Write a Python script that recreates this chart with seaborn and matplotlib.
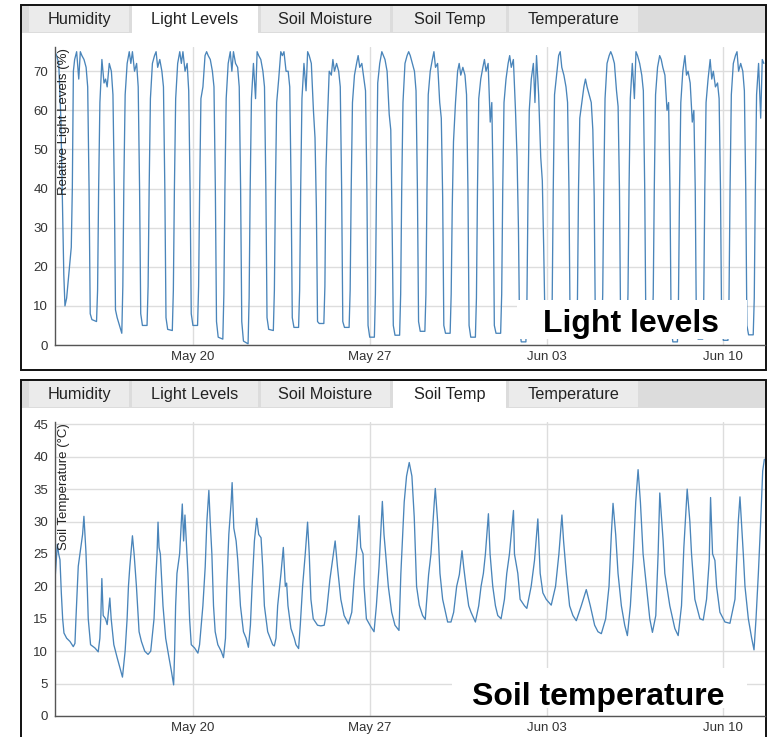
import numpy as np
import pandas as pd
import matplotlib
matplotlib.use("Agg")
import matplotlib.pyplot as plt
import matplotlib.dates as mdates
from matplotlib.patches import Rectangle
import seaborn as sns

nan = np.nan
START = pd.Timestamp("2023-05-14")

tab_names = ["Humidity", "Light Levels", "Soil Moisture", "Soil Temp", "Temperature"]
week_ticks = ["2023-05-20", "2023-05-27", "2023-06-03", "2023-06-10"]

# light readings: one row per day from May 14, columns are hour of day
light_hours = [0, 4.4, 5.4, 6.4, 7.6, 9.5, 11.5, 13, 14.5, 16.5, 18.5, 20, 21.3, 22.4]
light_rows = [
    [nan, nan, nan, nan, nan, nan, nan, 75, 74, 72, 58, 36, 18, 10],  # May 14
    [12, 25, 40, 70, 73, 75, 68, 75, 74, 73, 71, 66, 40, 8],
    [6.5, 6, 14, 40, 62, 73, 67, 68, 66, 72, 70, 64, 40, 9],
    [7, 3, 15, 42, 64, 72, 75, 72, 75, 70, 72, 66, 40, 8],
    [5, 5, 15, 40, 63, 72, 74, 75, 71, 73, 70, 66, 40, 7],
    [4, 3.7, 14, 40, 63, 72, 75, 72, 75, 70, 72, 65, 40, 8],
    [5, 5, 15, 40, 63, 66, 74, 75, 74, 73, 70, 66, 40, 6],  # May 20
    [2, 1.5, 13, 40, 63, 72, 75, 70, 75, 72, 71, 66, 40, 6],
    [1, 0.3, 12, 40, 63, 72, 63, 75, 74, 73, 70, 66, 40, 7],
    [4, 3.7, 14, 40, 62, 68, 75, 74, 75, 70, 70, 66, 40, 7],
    [4.5, 4.5, 14, 40, 63, 72, 65, 75, 74, 72, 60, 53, 35, 6],
    [5.5, 5.5, 15, 45, 56, 70, 69, 73, 70, 72, 70, 66, 40, 6],
    [4.5, 4.5, 14, 40, 62, 69, 72, 74, 71, 72, 68, 65, 40, 5],
    [2, 2, 13, 40, 67, 72, 75, 74, 73, 70, 59, 55, 30, 5],  # May 27
    [2.5, 2.5, 13, 40, 62, 72, 74, 75, 74, 72, 70, 65, 40, 6],
    [3.5, 3.5, 13, 40, 64, 70, 73, 75, 71, 72, 62, 58, 38, 5],
    [3, 3, 13, 35, 52, 62, 70, 72, 69, 71, 69, 64, 40, 5],
    [2, 2, 12, 40, 63, 68, 71, 73, 70, 72, 57, 62, 40, 5],
    [3, 3, 13, 40, 62, 68, 72, 74, 71, 73, 60, 48, 30, 4],
    [0.8, 0.8, 12, 38, 60, 68, 72, 62, 74, 64, 48, 42, 25, 8],
    [3, 2, 12, 40, 64, 69, 74, 75, 71, 69, 66, 62, 40, 5],  # Jun 03
    [3, 3, 12, 40, 58, 62, 66, 68, 66, 64, 62, 55, 38, 5],
    [3, 3, 13, 40, 63, 72, 74, 75, 74, 72, 65, 61, 40, 5],
    [3, 3, 13, 40, 63, 72, 63, 75, 74, 72, 69, 65, 40, 5],
    [3, 3, 13, 40, 64, 71, 74, 73, 71, 69, 60, 62, 40, 5],
    [0.8, 0.8, 12, 40, 62, 70, 74, 69, 70, 67, 57, 60, 40, 5],
    [1.5, 1.5, 12, 40, 62, 68, 73, 68, 70, 66, 67, 63, 40, 5],
    [1.2, 1.2, 12, 40, 64, 72, 74, 75, 70, 72, 70, 65, 40, 5],  # Jun 10
    [2.6, 2.6, 12, 40, 64, 72, 58, 73, 72, nan, nan, nan, nan, nan],
]

# soil temperature readings: (days since May 14, deg C)
soil_points = [
    (0.539, 21.0), (0.631, 26.5), (0.684, 25.0), (0.736, 24.1), (0.789, 19.0), (0.842, 15.0), (0.894, 12.8),
    (1.000, 12.0), (1.131, 11.5), (1.263, 10.7), (1.329, 11.2), (1.368, 15.0), (1.460, 23.1), (1.526, 25.0),
    (1.631, 28.0), (1.684, 30.8), (1.723, 28.0), (1.763, 25.4), (1.815, 20.0), (1.855, 15.0), (1.947, 11.0),
    (2.118, 10.5), (2.250, 9.9), (2.315, 12.0), (2.355, 15.5), (2.394, 21.2), (2.447, 15.5), (2.539, 15.0),
    (2.605, 14.1), (2.710, 18.2), (2.763, 15.0), (2.868, 11.0),
    (3.000, 9.0), (3.105, 7.5), (3.210, 6.0), (3.263, 8.0), (3.315, 10.0), (3.394, 15.0), (3.447, 20.0),
    (3.500, 23.0), (3.605, 27.8), (3.671, 25.0), (3.763, 20.0), (3.868, 13.0), (3.960, 11.5),
    (4.092, 10.0), (4.223, 9.5), (4.329, 10.0), (4.460, 15.0), (4.526, 21.0), (4.579, 25.0), (4.618, 29.9),
    (4.658, 26.0), (4.710, 25.0), (4.750, 22.0), (4.815, 17.0), (4.921, 12.0),
    (5.052, 9.0), (5.144, 7.0), (5.236, 4.8), (5.276, 10.0), (5.315, 17.0), (5.368, 22.0), (5.473, 25.0),
    (5.579, 32.7), (5.631, 27.0), (5.684, 31.0), (5.802, 22.0), (5.868, 15.0), (5.934, 11.0),
    (6.065, 10.5), (6.197, 9.7), (6.263, 11.0), (6.394, 17.0), (6.486, 23.0), (6.552, 30.0), (6.631, 34.8),
    (6.684, 30.0), (6.750, 25.0), (6.815, 17.0), (6.881, 13.0), (6.986, 11.0),
    (7.118, 10.0), (7.210, 9.0), (7.289, 12.0), (7.342, 20.0), (7.421, 28.0), (7.513, 33.0), (7.552, 36.0),
    (7.618, 29.0), (7.710, 27.0), (7.776, 24.0), (7.881, 17.0),
    (8.000, 13.0), (8.105, 12.0), (8.197, 10.6), (8.276, 14.0), (8.342, 20.0), (8.434, 27.0), (8.526, 30.5),
    (8.605, 28.0), (8.697, 27.5), (8.763, 23.0), (8.829, 17.0), (8.960, 13.0),
    (9.158, 11.0), (9.223, 10.8), (9.289, 12.0), (9.355, 17.0), (9.486, 22.0), (9.579, 26.0), (9.658, 20.0),
    (9.710, 20.5), (9.763, 17.0), (9.881, 13.5),
    (10.013, 12.0), (10.079, 11.0), (10.184, 10.4), (10.250, 14.0), (10.342, 20.0), (10.447, 25.0),
    (10.539, 29.9), (10.605, 25.0), (10.671, 18.0), (10.763, 15.0), (10.934, 14.0),
    (11.065, 13.9), (11.197, 14.0), (11.289, 16.0), (11.421, 21.0), (11.526, 24.0), (11.631, 27.0),
    (11.723, 23.0), (11.855, 18.0), (11.986, 15.5),
    (12.158, 14.2), (12.289, 16.0), (12.381, 21.0), (12.473, 25.0), (12.579, 30.9), (12.644, 26.0),
    (12.736, 25.0), (12.776, 20.0), (12.868, 15.0),
    (13.039, 13.8), (13.171, 13.0), (13.263, 17.0), (13.368, 23.0), (13.500, 33.1), (13.565, 28.0),
    (13.631, 25.0), (13.736, 20.0), (13.868, 16.0),
    (14.000, 14.0), (14.158, 13.2), (14.233, 22.0), (14.365, 33.0), (14.458, 37.0), (14.564, 39.1),
    (14.670, 37.0), (14.762, 30.7), (14.855, 20.0), (14.961, 17.1),
    (15.093, 15.5), (15.199, 14.9), (15.331, 21.8), (15.424, 25.0), (15.556, 33.0), (15.596, 35.1),
    (15.688, 30.0), (15.781, 22.0), (15.887, 18.0),
    (16.085, 14.5), (16.217, 14.5), (16.323, 16.0), (16.442, 20.0), (16.548, 21.8), (16.654, 25.5),
    (16.720, 23.0), (16.813, 20.0), (16.918, 17.0),
    (17.011, 16.0), (17.183, 14.5), (17.315, 17.0), (17.408, 20.0), (17.500, 22.0), (17.580, 25.0),
    (17.699, 31.2), (17.765, 25.0), (17.871, 20.0), (17.977, 17.0),
    (18.069, 15.5), (18.201, 15.0), (18.334, 18.0), (18.426, 22.0), (18.532, 25.0), (18.691, 31.7),
    (18.730, 25.0), (18.863, 22.0), (18.955, 18.0),
    (19.127, 17.0), (19.220, 16.6), (19.392, 20.0), (19.524, 24.0), (19.656, 30.4), (19.749, 22.0),
    (19.855, 19.0), (19.987, 18.0),
    (20.186, 17.1), (20.357, 20.0), (20.490, 25.0), (20.609, 31.0), (20.675, 27.0), (20.781, 22.0),
    (20.913, 17.0),
    (21.045, 15.5), (21.178, 14.7), (21.376, 17.0), (21.574, 19.5), (21.733, 17.0), (21.905, 14.0),
    (22.037, 13.0), (22.170, 12.7), (22.342, 15.0), (22.474, 20.0), (22.566, 28.0), (22.633, 32.8),
    (22.738, 28.0), (22.831, 22.0), (22.963, 17.0),
    (23.096, 14.0), (23.201, 12.4), (23.320, 17.0), (23.426, 24.0), (23.532, 33.0), (23.625, 38.0),
    (23.717, 33.0), (23.823, 25.0), (23.955, 20.0),
    (24.088, 15.0), (24.193, 12.9), (24.326, 15.5), (24.418, 25.0), (24.484, 34.4), (24.617, 27.0),
    (24.683, 22.0), (24.881, 17.0),
    (25.080, 13.5), (25.212, 12.4), (25.344, 17.0), (25.437, 26.0), (25.569, 35.0), (25.675, 30.0),
    (25.741, 25.0), (25.873, 18.0),
    (26.072, 15.0), (26.204, 14.8), (26.336, 18.0), (26.442, 24.0), (26.495, 33.7), (26.574, 25.0),
    (26.667, 24.0), (26.733, 20.0), (26.865, 16.0),
    (27.064, 14.5), (27.262, 14.3), (27.461, 18.0), (27.593, 30.0), (27.659, 33.8), (27.791, 25.0),
    (27.857, 20.0), (27.990, 15.0),
    (28.122, 12.0), (28.215, 10.2), (28.294, 15.0), (28.387, 22.0), (28.479, 30.0), (28.559, 37.8),
    (28.625, 39.6),
]

LINE = "#4a85ba"
W, H = 775, 737

sns.set_style("white")
plt.rcParams["font.family"] = ["Liberation Sans", "DejaVu Sans"]

light = pd.DataFrame(light_rows, columns=light_hours)
light["day"] = range(len(light_rows))
light = light.melt(id_vars="day", var_name="hour", value_name="value").dropna()
light["time"] = (START + pd.to_timedelta(light["day"], unit="D")
                 + pd.to_timedelta(light["hour"].astype(float), unit="h"))
light = light.sort_values("time")

soil = pd.DataFrame(soil_points, columns=["day", "value"])
soil["time"] = START + pd.to_timedelta(soil["day"], unit="D")

fig = plt.figure(figsize=(W / 100, H / 100), dpi=100)

# page layer with the two framed panels and their tab bars (pixel coords)
page = fig.add_axes([0, 0, 1, 1], zorder=0)
page.set_xlim(0, W)
page.set_ylim(H, 0)
page.axis("off")


def draw_panel(top, active):
    page.add_patch(Rectangle((20.5, top), 745.5, 365, facecolor="white",
                             edgecolor="#111111", lw=1.4))
    page.add_patch(Rectangle((21.5, top + 1), 743.5, 27, facecolor="#dcdcdc", lw=0))
    spans = [(29, 129), (132, 258), (261, 390), (393, 506), (509, 638)]
    for name, (x0, x1) in zip(tab_names, spans):
        face = "white" if name == active else "#ebebeb"
        hgt = 28 if name == active else 26
        page.add_patch(Rectangle((x0, top + 1), x1 - x0, hgt, facecolor=face, lw=0))
        page.text((x0 + x1) / 2, top + 14.5, name, ha="center", va="center",
                  fontsize=11.7, color="#222222")


draw_panel(4.5, "Light Levels")
draw_panel(379.5, "Soil Temp")


def style_axis(ax, ymax, step, label):
    ax.set_facecolor("none")
    ax.set_ylim(0, ymax)
    ax.set_yticks(np.arange(0, ymax, step))
    ax.set_xlim(START + pd.Timedelta(days=0.539), START + pd.Timedelta(days=28.65))
    ax.set_xticks(pd.to_datetime(week_ticks))
    ax.xaxis.set_major_formatter(mdates.DateFormatter("%b %d"))
    ax.grid(True, color="#dddddd", lw=1.0)
    ax.set_axisbelow(True)
    for side in ["top", "right"]:
        ax.spines[side].set_visible(False)
    for side in ["left", "bottom"]:
        ax.spines[side].set_color("#555555")
        ax.spines[side].set_linewidth(1.0)
    ax.tick_params(length=0, labelsize=9.5, labelcolor="#333333")
    ax.tick_params(axis="y", pad=5)
    ax.tick_params(axis="x", pad=4.5)
    ax.set_xlabel("")
    ax.set_ylabel("")
    ax.text(0.0127, 0.997, label, rotation=90, ha="center", va="top",
            transform=ax.transAxes, fontsize=9.5, color="#222222")


ax1 = fig.add_axes([55 / W, 1 - 345 / H, 710 / W, 298 / H], zorder=1)
sns.lineplot(data=light, x="time", y="value", ax=ax1, color=LINE, lw=0.95,
             estimator=None, sort=False)
style_axis(ax1, 76.2, 10, "Relative Light Levels (%)")

ax2 = fig.add_axes([55 / W, 1 - 716 / H, 710 / W, 294 / H], zorder=1)
sns.lineplot(data=soil, x="time", y="value", ax=ax2, color=LINE, lw=0.95,
             estimator=None, sort=False)
style_axis(ax2, 45.35, 5, "Soil Temperature (\u00b0C)")

# caption boxes on top of the charts
front = fig.add_axes([0, 0, 1, 1], zorder=5)
front.set_xlim(0, W)
front.set_ylim(H, 0)
front.axis("off")
front.add_patch(Rectangle((517, 300), 230, 39, facecolor="white", lw=0))
front.text(631, 332, "Light levels", ha="center", va="baseline",
           fontsize=23, fontweight="bold", color="black")
front.add_patch(Rectangle((452, 668), 295, 40, facecolor="white", lw=0))
front.text(598, 705, "Soil temperature", ha="center", va="baseline",
           fontsize=23, fontweight="bold", color="black")

fig.savefig("out.png", dpi=100)
